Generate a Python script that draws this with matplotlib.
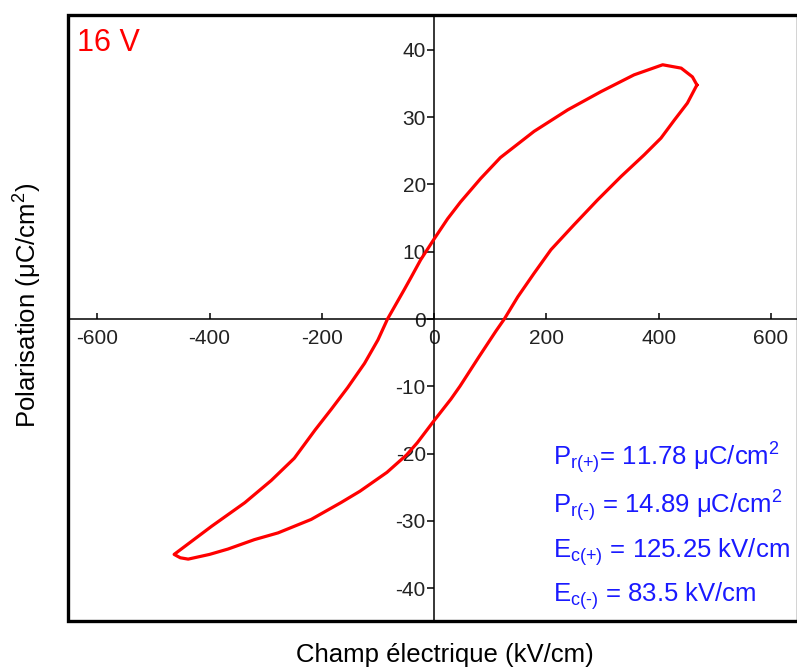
"""
Ferroelectric P-E hysteresis loop at 16 V, redrawn from the reference figure.
"""

import matplotlib

matplotlib.use("Agg")

import matplotlib.pyplot as plt
from matplotlib.patches import Rectangle

# -----------------------------------------------------------------------------
# Data
# -----------------------------------------------------------------------------

# upper branch: from the positive tip, sweeping down to the negative tip
upper_field_kv_cm = [468, 460, 440, 407, 356, 297, 238, 178, 118, 83, 47, 24,
                     0, -24, -41, -53, -83, -100, -124, -154, -183, -212,
                     -249, -290, -337, -396, -463]
upper_pol_uc_cm2 = [34.8, 36.0, 37.3, 37.8, 36.3, 33.8, 31.1, 27.9, 24.0, 20.9,
                    17.4, 14.9, 11.9, 8.8, 6.2, 4.4, 0.0, -3.1, -6.6, -10.2,
                    -13.4, -16.5, -20.7, -24.0, -27.3, -30.8, -35.0]

# lower branch: from the negative tip, sweeping back up to the positive tip
lower_field_kv_cm = [-463, -452, -438, -400, -367, -320, -278, -219, -166,
                     -132, -84, -49, -30, 0, 30, 46, 80, 110, 125, 149, 178,
                     208, 249, 291, 333, 374, 404, 428, 451, 468]
lower_pol_uc_cm2 = [-35.0, -35.5, -35.7, -35.0, -34.2, -32.8, -31.8, -29.8,
                    -27.3, -25.6, -22.8, -20.2, -18.4, -15.1, -11.9, -10.0,
                    -5.6, -1.8, 0.0, 3.3, 6.8, 10.3, 14.0, 17.7, 21.2, 24.4,
                    26.9, 29.6, 32.1, 34.8]

x_ticks = [-600, -400, -200, 0, 200, 400, 600]
y_ticks = [-40, -30, -20, -10, 0, 10, 20, 30, 40]

voltage_label = "16 V"
summary_lines = [
    r"P$_{\mathrm{r(+)}}$= 11.78 μC/cm$^{2}$",
    "P$_{\\mathrm{r(\u2010)}}$ = 14.89 μC/cm$^{2}$",
    r"E$_{\mathrm{c(+)}}$ = 125.25 kV/cm",
    "E$_{\\mathrm{c(\u2010)}}$ = 83.5 kV/cm",
]

OUT_PATH = "out.png"


def main() -> None:
    plt.rcParams["font.family"] = ["Liberation Sans", "DejaVu Sans"]
    plt.rcParams["axes.unicode_minus"] = False
    plt.rcParams["mathtext.fontset"] = "custom"
    plt.rcParams["mathtext.rm"] = "Liberation Sans"
    plt.rcParams["mathtext.it"] = "Liberation Sans:italic"
    plt.rcParams["mathtext.bf"] = "Liberation Sans:bold"

    fig = plt.figure(figsize=(7.97, 6.70), dpi=100)
    ax = fig.add_axes([68 / 797, 49 / 670, 730 / 797, 606 / 670])

    loop_x = upper_field_kv_cm + lower_field_kv_cm
    loop_y = upper_pol_uc_cm2 + lower_pol_uc_cm2
    ax.plot(loop_x, loop_y, color="#ff0000", lw=2.3, solid_joinstyle="round",
            zorder=3)

    ax.set_xlim(-652, 648)
    ax.set_ylim(-44.9, 45.2)

    # axes crossing at the origin, plus a heavy outer frame
    ax.spines["left"].set_position("zero")
    ax.spines["bottom"].set_position("zero")
    ax.spines["left"].set_linewidth(1.1)
    ax.spines["bottom"].set_linewidth(1.1)
    ax.spines["top"].set_visible(False)
    ax.spines["right"].set_visible(False)
    ax.add_patch(Rectangle((0, 0), 1, 1, transform=ax.transAxes, fill=False,
                           lw=2.4, edgecolor="black", clip_on=False, zorder=4))

    ax.set_xticks(x_ticks)
    ax.set_yticks(y_ticks)
    ax.tick_params(axis="x", direction="in", length=4, width=1.1, pad=7,
                   labelsize=15, labelcolor="#222222")
    ax.tick_params(axis="y", direction="out", length=5, width=1.1, pad=1,
                   labelsize=15, labelcolor="#222222")

    ax.text(0.012, 0.941, voltage_label, transform=ax.transAxes, color="#ff0000",
            fontsize=22, va="baseline", ha="left")

    baselines = [0.257, 0.178, 0.104, 0.031]
    for line, yb in zip(summary_lines, baselines):
        ax.text(0.665, yb, line, transform=ax.transAxes, color="#1a1aff",
                fontsize=18.5, va="baseline", ha="left")

    fig.text(445 / 797, 0.004, "Champ électrique (kV/cm)", ha="center",
             va="bottom", fontsize=18.5)
    fig.text(28 / 797, 1 - 305 / 670, r"Polarisation (μC/cm$^{2}$)",
             rotation=90, ha="center", va="center", fontsize=18.5)

    fig.savefig(OUT_PATH, dpi=100)


if __name__ == "__main__":
    main()
